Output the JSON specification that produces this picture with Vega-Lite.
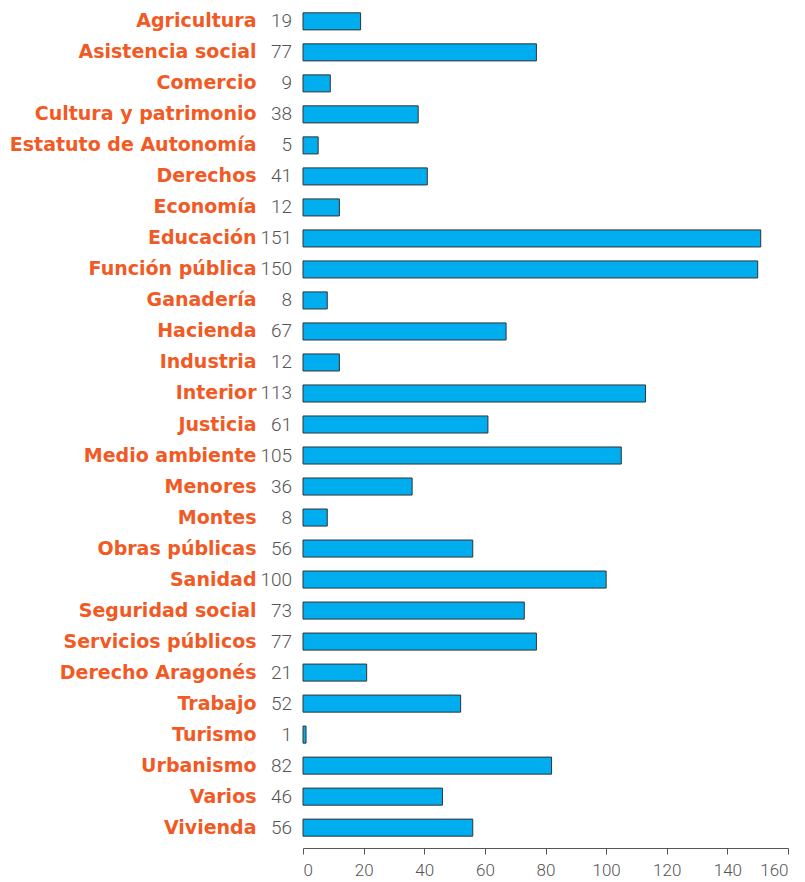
{
  "$schema": "https://vega.github.io/schema/vega-lite/v6.json",
  "width": 485,
  "height": 837,
  "autosize": {"type": "none"},
  "padding": {"left": 303, "top": 6, "right": 17, "bottom": 39},
  "background": "white",
  "data": {
    "values": [
      {"tema": "Agricultura", "n": 19},
      {"tema": "Asistencia social", "n": 77},
      {"tema": "Comercio", "n": 9},
      {"tema": "Cultura y patrimonio", "n": 38},
      {"tema": "Estatuto de Autonomía", "n": 5},
      {"tema": "Derechos", "n": 41},
      {"tema": "Economía", "n": 12},
      {"tema": "Educación", "n": 151},
      {"tema": "Función pública", "n": 150},
      {"tema": "Ganadería", "n": 8},
      {"tema": "Hacienda", "n": 67},
      {"tema": "Industria", "n": 12},
      {"tema": "Interior", "n": 113},
      {"tema": "Justicia", "n": 61},
      {"tema": "Medio ambiente", "n": 105},
      {"tema": "Menores", "n": 36},
      {"tema": "Montes", "n": 8},
      {"tema": "Obras públicas", "n": 56},
      {"tema": "Sanidad", "n": 100},
      {"tema": "Seguridad social", "n": 73},
      {"tema": "Servicios públicos", "n": 77},
      {"tema": "Derecho Aragonés", "n": 21},
      {"tema": "Trabajo", "n": 52},
      {"tema": "Turismo", "n": 1},
      {"tema": "Urbanismo", "n": 82},
      {"tema": "Varios", "n": 46},
      {"tema": "Vivienda", "n": 56}
    ]
  },
  "encoding": {
    "y": {
      "field": "tema",
      "type": "nominal",
      "sort": null,
      "title": null,
      "scale": {"paddingInner": 0.45, "paddingOuter": 0.22},
      "axis": {
        "domain": false,
        "ticks": false,
        "labelPadding": 47,
        "labelFont": "DejaVu Sans",
        "labelFontWeight": "bold",
        "labelFontSize": 19,
        "labelColor": "#F15A24",
        "labelLimit": 320
      }
    }
  },
  "layer": [
    {
      "mark": {"type": "bar", "fill": "#00AEEF", "stroke": "#333333", "strokeWidth": 1},
      "encoding": {
        "x": {
          "field": "n",
          "type": "quantitative",
          "title": null,
          "scale": {"domain": [0, 160], "nice": false},
          "axis": {
            "values": [0, 20, 40, 60, 80, 100, 120, 140, 160],
            "grid": false,
            "offset": 5,
            "domainColor": "#555555",
            "tickColor": "#555555",
            "tickSize": 6,
            "labelFont": "Roboto",
            "labelFontWeight": 300,
            "labelFontSize": 17,
            "labelColor": "#555555",
            "labelPadding": 8
          }
        }
      }
    },
    {
      "mark": {
        "type": "text",
        "align": "right",
        "baseline": "middle",
        "dx": -11,
        "font": "Roboto",
        "fontWeight": 300,
        "fontSize": 19,
        "color": "#555555"
      },
      "encoding": {
        "x": {"datum": 0, "type": "quantitative"},
        "text": {"field": "n", "type": "quantitative"}
      }
    }
  ],
  "config": {"view": {"stroke": null}}
}
